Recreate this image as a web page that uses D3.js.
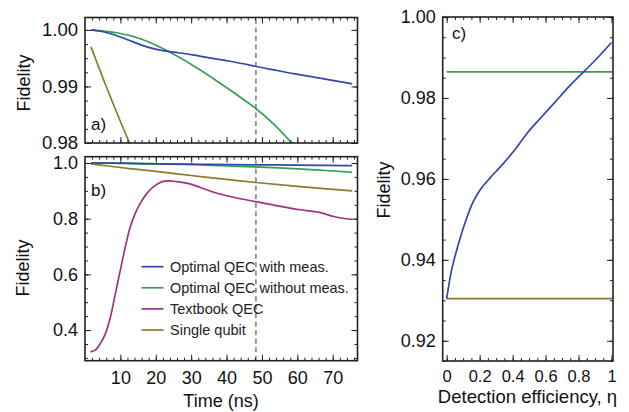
<!DOCTYPE html>
<html><head><meta charset="utf-8">
<script src="https://cdn.jsdelivr.net/npm/d3@7"></script>
<style>
html,body{margin:0;padding:0;background:#fff;}
svg{display:block;font-family:"Liberation Sans",Arial,Helvetica,sans-serif;}
</style></head>
<body><svg id="chart" width="629" height="412"></svg>
<script>
// ---------- data ----------
const blueT   = [1.7, 5.0, 7.2, 10.0, 13.8, 16.6, 19.4, 25.1, 30.7, 34.5, 42.0, 48.3, 53.3, 59.0, 66.5, 75.5];
const blueF   = [1.0000, 0.99975, 0.99935, 0.99875, 0.99785, 0.99715, 0.99660, 0.99605, 0.99559, 0.99510, 0.99441, 0.99353, 0.99294, 0.99224, 0.99147, 0.99047];
const greenT  = [1.7, 9.1, 15.6, 23.6, 32.6, 40.1, 48.3, 53.3, 58.5, 66.0, 75.5];
const greenF  = [1.0000, 0.9996, 0.9986, 0.99630, 0.99300, 0.98975, 0.98620, 0.98345, 0.9800, 0.9745, 0.9668];
const oliveT  = [1.7, 6.0, 12.6, 20.0, 30.0, 40.0, 48.3, 60.0, 75.5];
const oliveF  = [0.997, 0.990, 0.980, 0.970, 0.955, 0.941, 0.930, 0.916, 0.900];
const purpleT = [1.5, 2.9, 4.4, 5.8, 7.2, 8.6, 10.0, 11.4, 12.8, 14.2, 15.6, 17.5, 19.4, 21.8, 23.6, 26.9, 29.8, 36.4, 42.0, 48.3, 54.0, 60.8, 66.5, 70.3, 75.5];
const purpleF = [0.322, 0.328, 0.353, 0.388, 0.448, 0.532, 0.616, 0.699, 0.771, 0.819, 0.855, 0.891, 0.915, 0.933, 0.936, 0.931, 0.924, 0.895, 0.877, 0.861, 0.847, 0.832, 0.822, 0.808, 0.797];
const markTime = 48.3;

const etaVals   = [0, 0.030, 0.070, 0.111, 0.161, 0.212, 0.262, 0.342, 0.423, 0.494, 0.564, 0.645, 0.746, 0.837, 0.917, 1.0];
const etaBlueF  = [0.9304, 0.9375, 0.9437, 0.9491, 0.9544, 0.9578, 0.9602, 0.9637, 0.9677, 0.9716, 0.9748, 0.9784, 0.9830, 0.9867, 0.9900, 0.9937];
const etaGreenF = 0.98645;
const etaOliveF = 0.9304;

const seriesNames = ["Optimal QEC with meas.", "Optimal QEC without meas.", "Textbook QEC", "Single qubit"];
const aYTicks = [0.98, 0.99, 1.00];
const bYTicks = [0.4, 0.6, 0.8, 1.0];
const timeTicks = [10, 20, 30, 40, 50, 60, 70];
const cYTicks = [0.92, 0.94, 0.96, 0.98, 1.00];
const cXTicks = [0, 0.2, 0.4, 0.6, 0.8, 1];
const cXLabels = ["0", "0.2", "0.4", "0.6", "0.8", "1"];

// ---------- style ----------
const C = {blue:"#3447a8", green:"#33a152", purple:"#9c3580", olive:"#8b7b2f", frame:"#222", text:"#111"};
const svg = d3.select("#chart");
const FS = 18;

const zip = (t, f) => t.map((v, i) => [v, f[i]]);

function drawAxes(g, x, y, o) {
  const [x0, x1] = x.range(), [y0, y1] = y.range(); // y0 bottom
  const w = x1 - x0, h = y0 - y1;
  const mk = (axisFn, scale, vals, size, fmt, tx, ty, pad, fs) => {
    const ax = axisFn(scale).tickValues(vals).tickSize(size).tickPadding(pad || 3);
    ax.tickFormat(fmt || (() => ""));
    const a = g.append("g").attr("transform", `translate(${tx},${ty})`).call(ax);
    a.select(".domain").remove();
    a.selectAll(".tick line").attr("stroke", C.frame).attr("stroke-width", 1);
    a.selectAll(".tick text").attr("font-size", fs || FS).attr("fill", C.text).attr("font-family", "Liberation Sans, Arial, sans-serif");
    return a;
  };
  // minor
  mk(d3.axisBottom, x, o.xMinor, -3, null, 0, y0);
  mk(d3.axisTop, x, o.xMinor, -3, null, 0, y1);
  mk(d3.axisLeft, y, o.yMinor, -3, null, x0, 0);
  mk(d3.axisRight, y, o.yMinor, -3, null, x1, 0);
  // major
  mk(d3.axisBottom, x, o.xMajor, -6, o.xFmt, 0, y0, o.xPad, o.xFs);
  mk(d3.axisTop, x, o.xMajor, -6, null, 0, y1);
  mk(d3.axisLeft, y, o.yMajor, -6, o.yFmt, x0, 0, 7, o.yFs);
  mk(d3.axisRight, y, o.yMajor, -6, null, x1, 0);
  g.append("rect").attr("x", x0).attr("y", y1).attr("width", w).attr("height", h)
    .attr("fill", "none").attr("stroke", C.frame).attr("stroke-width", 1.6);
}

function range(a, b, s) { const r = []; for (let v = a; v <= b + 1e-9; v += s) r.push(+v.toFixed(6)); return r; }

// ---------- scales ----------
const xT = d3.scaleLinear().domain([0, 77]).range([85, 357.5]);
const yA = d3.scaleLinear().domain([0.98, 1.0022]).range([143, 17.5]);
const yB = d3.scaleLinear().domain([0.29, 1.0226]).range([360.7, 156.7]);
const xC = d3.scaleLinear().domain([-0.0242, 1.009]).range([442.7, 613]);
const yC = d3.scaleLinear().domain([0.915, 1.0]).range([361, 17]);

const defs = svg.append("defs");
function clip(id, x, y) {
  defs.append("clipPath").attr("id", id).append("rect")
    .attr("x", x.range()[0]).attr("y", y.range()[1])
    .attr("width", x.range()[1] - x.range()[0]).attr("height", y.range()[0] - y.range()[1]);
}
clip("ca", xT, yA); clip("cb", xT, yB); clip("cc", xC, yC);

function drawLines(g, x, y, clipId, list) {
  const gg = g.append("g").attr("clip-path", `url(#${clipId})`);
  list.forEach(s => {
    const line = d3.line().x(d => x(d[0])).y(d => y(d[1])).curve(s.curve || d3.curveCatmullRom.alpha(0.5));
    gg.append("path").attr("d", line(s.data)).attr("fill", "none")
      .attr("stroke", s.color).attr("stroke-width", 1.7);
  });
  return gg;
}

const seriesTime = [
  {data: zip(oliveT, oliveF), color: C.olive},
  {data: zip(purpleT, purpleF), color: C.purple},
  {data: zip(greenT, greenF), color: C.green, curve: d3.curveBasis},
  {data: zip(blueT, blueF), color: C.blue, curve: d3.curveBasis}
];

// ---------- panel a ----------
const gA = svg.append("g");
const ga = drawLines(gA, xT, yA, "ca", seriesTime);
ga.append("line").attr("x1", xT(markTime)).attr("x2", xT(markTime)).attr("y1", yA.range()[0]).attr("y2", yA.range()[1])
  .attr("stroke", "#666").attr("stroke-width", 1.3).attr("stroke-dasharray", "5,3.5");
drawAxes(gA, xT, yA, {xMajor: timeTicks, xMinor: range(2, 76, 2), yMajor: aYTicks, yMinor: range(0.98, 1.0, 0.0025), yFmt: d3.format(".2f"), yFs: 18.5});
gA.append("text").attr("x", 91).attr("y", 130).attr("font-size", 17).attr("fill", C.text).text("a)");
gA.append("text").attr("transform", "translate(30,83) rotate(-90)").attr("text-anchor", "middle").attr("font-size", FS).attr("fill", C.text).text("Fidelity");

// ---------- panel b ----------
const gB = svg.append("g");
const gb = drawLines(gB, xT, yB, "cb", seriesTime);
gb.append("line").attr("x1", xT(markTime)).attr("x2", xT(markTime)).attr("y1", yB.range()[0]).attr("y2", yB.range()[1])
  .attr("stroke", "#666").attr("stroke-width", 1.3).attr("stroke-dasharray", "5,3.5");
drawAxes(gB, xT, yB, {xMajor: timeTicks, xMinor: range(2, 76, 2), yMajor: bYTicks, yMinor: range(0.3, 1.0, 0.05), yFmt: d3.format(".1f"), xFmt: d3.format("d"), xPad: 11});
gB.append("text").attr("x", 91).attr("y", 196).attr("font-size", 17).attr("fill", C.text).text("b)");
gB.append("text").attr("transform", "translate(29,268) rotate(-90)").attr("text-anchor", "middle").attr("font-size", FS).attr("fill", C.text).text("Fidelity");
gB.append("text").attr("x", 221).attr("y", 407).attr("text-anchor", "middle").attr("font-size", FS).attr("fill", C.text).text("Time (ns)");

// legend
const legColors = [C.blue, C.green, C.purple, C.olive];
const leg = gB.append("g");
seriesNames.forEach((n, i) => {
  const yy = 266.7 + i * 21.1;
  leg.append("line").attr("x1", 141.5).attr("x2", 163.5).attr("y1", yy).attr("y2", yy).attr("stroke", legColors[i]).attr("stroke-width", 1.7);
  leg.append("text").attr("x", 170).attr("y", yy + 5.2).attr("font-size", 14.5).attr("fill", "#222").text(n);
});

// ---------- panel c ----------
const gC = svg.append("g");
drawLines(gC, xC, yC, "cc", [
  {data: [[0, etaGreenF], [1.005, etaGreenF]], color: C.green},
  {data: [[0, etaOliveF], [1.005, etaOliveF]], color: C.olive},
  {data: zip(etaVals, etaBlueF), color: C.blue}
]);
drawAxes(gC, xC, yC, {xMajor: cXTicks, xMinor: range(0, 1, 0.05), yMajor: cYTicks, yMinor: range(0.915, 1.0, 0.005),
  yFmt: d3.format(".2f"), xFmt: (d, i) => cXLabels[i], xPad: 9, xFs: 16.5});
gC.append("text").attr("x", 452).attr("y", 39).attr("font-size", 17).attr("fill", C.text).text("c)");
gC.append("text").attr("transform", "translate(390,190) rotate(-90)").attr("text-anchor", "middle").attr("font-size", FS).attr("fill", C.text).text("Fidelity");
gC.append("text").attr("x", 527.5).attr("y", 403).attr("text-anchor", "middle").attr("font-size", 18.5).attr("fill", C.text).text("Detection efficiency, η");
</script></body></html>
